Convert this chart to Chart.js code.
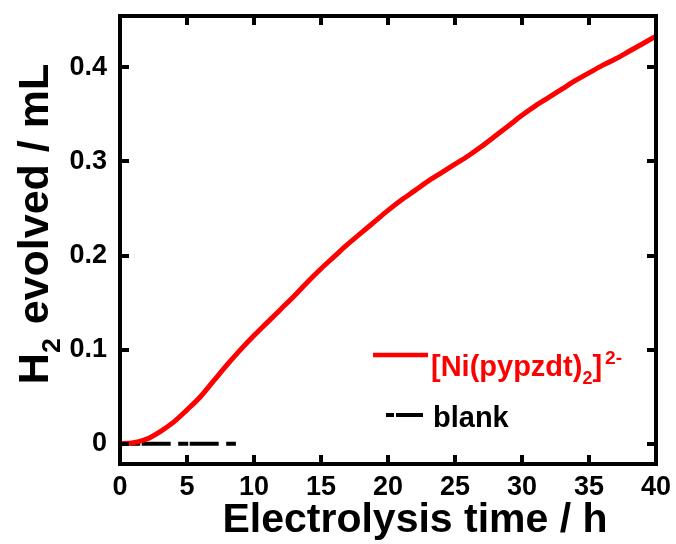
<!DOCTYPE html>
<html>
<head>
<meta charset="utf-8">
<script src="https://cdn.jsdelivr.net/npm/chart.js@4/dist/chart.umd.min.js"></script>
<style>
  html, body { margin: 0; padding: 0; background: #fff; }
  #wrap { width: 676px; height: 544px; }
</style>
</head>
<body>
<div id="wrap"><canvas id="c" width="676" height="544"></canvas></div>
<script>
// Electrolysis time (h) and H2 evolved (mL)
const timeH = [0, 1, 2, 3, 4, 5, 6, 7, 8, 9, 10, 11, 12, 13, 14, 15, 16, 17, 18, 19, 20,
               21, 22, 23, 24, 25, 26, 27, 28, 29, 30, 31, 32, 33, 34, 35, 36, 37, 38, 39, 40];
const niH2 = [0, 0.001, 0.005, 0.013, 0.023, 0.036, 0.050, 0.067, 0.084, 0.100, 0.115,
              0.129, 0.143, 0.157, 0.172, 0.186, 0.199, 0.212, 0.224, 0.236, 0.248,
              0.259, 0.269, 0.279, 0.288, 0.297, 0.306, 0.316, 0.327, 0.338, 0.349,
              0.359, 0.368, 0.377, 0.386, 0.394, 0.402, 0.409, 0.417, 0.425, 0.433];
const blankTime = [0, 8.65];
const blankH2 = [0, 0];
const xTicks = [0, 5, 10, 15, 20, 25, 30, 35, 40];
const yTicks = [0, 0.1, 0.2, 0.3, 0.4];

const FONT = '"Liberation Sans", Arial, Helvetica, sans-serif';

function pts(xs, ys) { return xs.map((x, i) => ({ x: x, y: ys[i] })); }

// draw a run of text pieces, some of them sub/superscript
function richText(ctx, parts, x, y, size, color) {
  let cx = x;
  for (const p of parts) {
    const s = p.sub || p.sup ? size * (p.scale || 0.62) : size;
    ctx.font = 'bold ' + s + 'px ' + FONT;
    ctx.fillStyle = color;
    const dy = p.sub ? size * 0.28 : (p.sup ? -size * 0.42 : 0);
    ctx.fillText(p.t, cx, y + dy);
    cx += ctx.measureText(p.t).width + (p.gap || 0);
  }
  return cx - x;
}
function richWidth(ctx, parts, size) {
  let w = 0;
  for (const p of parts) {
    const s = p.sub || p.sup ? size * (p.scale || 0.62) : size;
    ctx.font = 'bold ' + s + 'px ' + FONT;
    w += ctx.measureText(p.t).width + (p.gap || 0);
  }
  return w;
}

const frame = {
  id: 'frame',
  afterDatasetsDraw(chart) {
    const ctx = chart.ctx, a = chart.chartArea;
    const xs = chart.scales.x, ys = chart.scales.y;
    ctx.save();
    ctx.strokeStyle = '#000';
    ctx.lineWidth = 4;
    ctx.lineCap = 'butt';
    // inward major ticks on all four sides
    const tl = 9;
    ctx.beginPath();
    for (const v of xTicks) {
      const px = Math.round(xs.getPixelForValue(v));
      ctx.moveTo(px, a.bottom); ctx.lineTo(px, a.bottom - tl);
      ctx.moveTo(px, a.top); ctx.lineTo(px, a.top + tl);
    }
    for (const v of yTicks) {
      const py = Math.round(ys.getPixelForValue(v));
      ctx.moveTo(a.left, py); ctx.lineTo(a.left + tl, py);
      ctx.moveTo(a.right, py); ctx.lineTo(a.right - tl, py);
    }
    ctx.stroke();
    ctx.strokeRect(a.left, a.top, a.right - a.left, a.bottom - a.top);

    // axis titles
    ctx.textBaseline = 'alphabetic';
    ctx.textAlign = 'left';
    const xt = [{ t: 'Electrolysis time / h' }];
    const xw = richWidth(ctx, xt, 41);
    richText(ctx, xt, 415 - xw / 2, 532, 41, '#000');

    const yt = [{ t: 'H' }, { t: '2', sub: true, gap: 2 }, { t: ' evolved / mL' }];
    const yw = richWidth(ctx, yt, 43);
    ctx.save();
    ctx.translate(48, 224);
    ctx.rotate(-Math.PI / 2);
    richText(ctx, yt, -yw / 2, 0, 43, '#000');
    ctx.restore();

    // legend
    const ds = chart.data.datasets;
    ctx.lineWidth = 4.5;
    ctx.strokeStyle = ds[0].borderColor;
    ctx.beginPath(); ctx.moveTo(373, 355); ctx.lineTo(428, 355); ctx.stroke();
    richText(ctx, [{ t: '[Ni(pypzdt)' }, { t: '2', sub: true }, { t: ']', gap: 3 },
                   { t: '2-', sup: true, scale: 0.66 }],
             431, 376, 29, ds[0].borderColor);

    ctx.lineWidth = 4;
    ctx.strokeStyle = ds[1].borderColor;
    ctx.setLineDash([8, 2, 27, 0]);
    ctx.beginPath(); ctx.moveTo(386, 415); ctx.lineTo(423, 415); ctx.stroke();
    ctx.setLineDash([]);
    richText(ctx, [{ t: 'blank' }], 433, 427, 29, ds[1].borderColor);
    ctx.restore();
  }
};

new Chart(document.getElementById('c'), {
  type: 'line',
  data: {
    datasets: [
      {
        label: '[Ni(pypzdt)2]2-',
        data: pts(timeH, niH2),
        borderColor: '#ff0000',
        borderWidth: 5,
        pointRadius: 0,
        cubicInterpolationMode: 'monotone',
        order: 0
      },
      {
        label: 'blank',
        data: pts(blankTime, blankH2),
        borderColor: '#000000',
        borderWidth: 4,
        borderDash: [10, 1.5, 29, 7.5],
        borderDashOffset: 37.8,
        pointRadius: 0,
        order: 1
      }
    ]
  },
  options: {
    responsive: false,
    animation: false,
    devicePixelRatio: 1,
    layout: { padding: { top: 16, right: 20, left: 0, bottom: 0 } },
    plugins: { legend: { display: false }, tooltip: { enabled: false } },
    scales: {
      x: {
        type: 'linear',
        min: 0, max: 40,
        afterFit(s) { s.height = 80; s.paddingLeft = 0; s.paddingRight = 0; },
        afterBuildTicks(s) { s.ticks = xTicks.map(v => ({ value: v })); },
        grid: { display: false, drawTicks: false },
        border: { display: false },
        ticks: {
          padding: 7,
          color: '#000',
          font: { family: FONT, size: 27, weight: 'bold' },
          maxRotation: 0
        }
      },
      y: {
        type: 'linear',
        min: -0.0215, max: 0.4545,
        afterFit(s) { s.width = 120; s.paddingTop = 0; s.paddingBottom = 0; },
        afterBuildTicks(s) { s.ticks = yTicks.map(v => ({ value: v })); },
        grid: { display: false, drawTicks: false },
        border: { display: false },
        ticks: {
          padding: 13,
          color: '#000',
          font: { family: FONT, size: 27, weight: 'bold' },
          callback: v => (Math.abs(v) < 1e-9 ? '0' : String(Math.round(v * 10) / 10))
        }
      }
    }
  },
  plugins: [frame]
});
</script>
</body>
</html>
